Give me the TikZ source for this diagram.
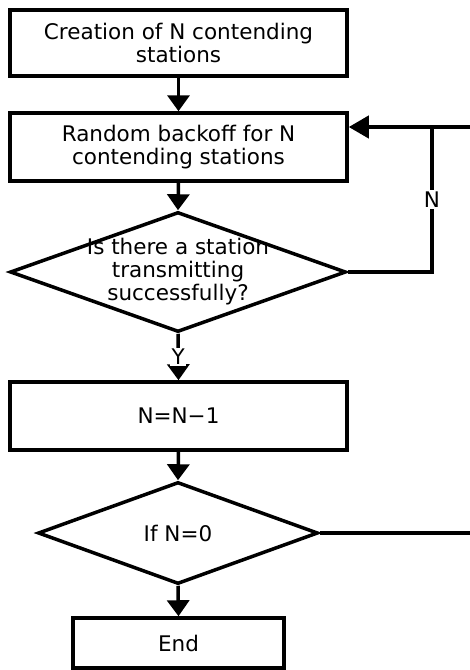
\documentclass[tikz,border=0pt]{standalone}
\usepackage{fontspec}
\setmainfont{DejaVu Sans}
\usetikzlibrary{arrows.meta,shapes.geometric}
\begin{document}
\begin{tikzpicture}[x=1pt,y=-1pt,
  lbl/.style={font=\fontsize{21.5}{23}\selectfont},
  box/.style={draw, line width=3.5pt, inner sep=0pt, align=center, lbl},
  dec/.style={draw, diamond, line width=3.5pt, inner sep=0pt},
  txt/.style={align=center, inner sep=0pt, lbl},
  conn/.style={line width=3.5pt},
  arr/.style={conn, -{Triangle[length=16pt,width=22pt]}},
  tag/.style={fill=white, inner sep=1.5pt, lbl}
]
\useasboundingbox (0,0) rectangle (470,670);
\node[box, minimum width=337pt, minimum height=66pt] (b1) at (178.5,43) {Creation of N contending\\stations};
\node[box, minimum width=337pt, minimum height=68pt] (b2) at (178.5,147) {Random backoff for N\\contending stations};
\node[dec, minimum width=336pt, minimum height=120pt] (d1) at (178,272) {};
\node[txt] (t1) at (d1.center) {Is there a station\\transmitting\\successfully?};
\node[box, minimum width=337pt, minimum height=68pt] (b3) at (178.5,416) {N=N−1};
\node[dec, minimum width=280pt, minimum height=102pt] (d2) at (178,533) {};
\node[txt] (t2) at (d2.center) {If N=0};
\node[box, minimum width=211pt, minimum height=50pt] (b4) at (178.5,643) {End};

\coordinate (r1) at (470,127);
\coordinate (k1) at (432,127);
\coordinate (k2) at (432,272);
\coordinate (r2) at (470,533);

\draw[arr] (b1.south) -- (b2.north);
\draw[arr] (b2.south) -- (d1.north);
\draw[arr] (d1.south) -- node[tag] {Y} (b3.north);
\draw[arr] (b3.south) -- (d2.north);
\draw[arr] (d2.south) -- (b4.north);
\draw[conn] (d1.east) -- (k2) -- node[tag] {N} (k1);
\draw[conn, line width=4pt, -{Triangle[length=20pt,width=22pt]}] (r1) -- (b2.east |- r1);
\draw[conn] (d2.east) -- (r2);
\end{tikzpicture}
\end{document}
